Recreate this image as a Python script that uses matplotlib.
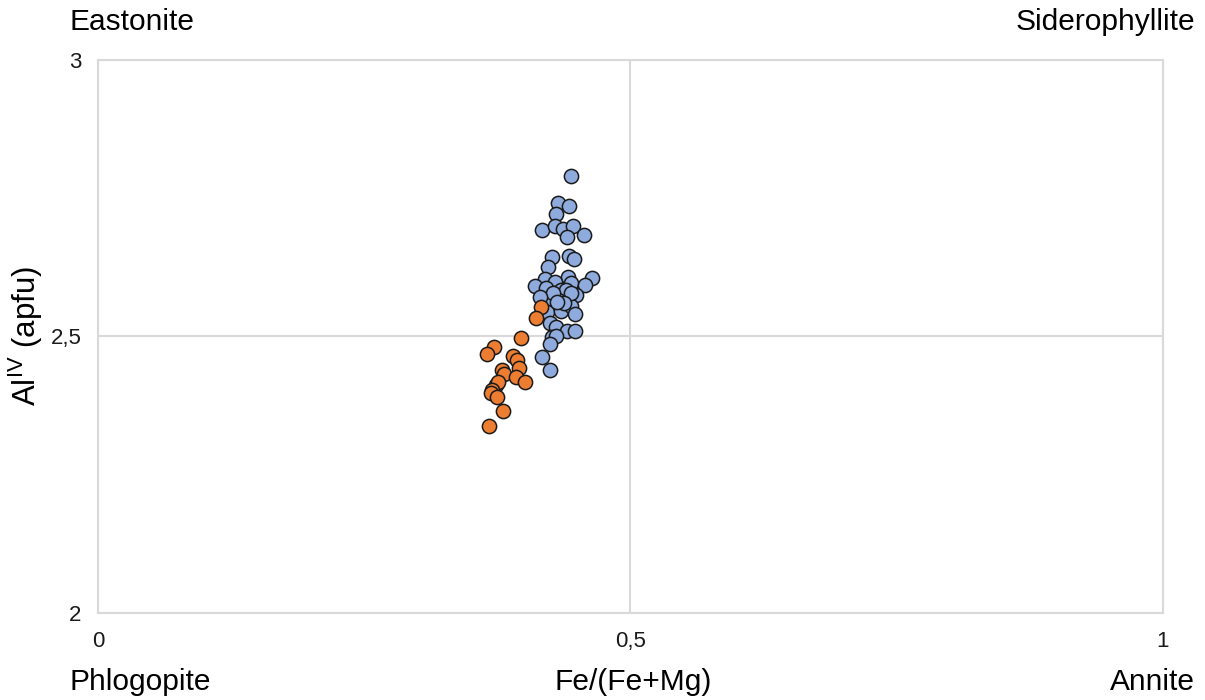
import matplotlib
matplotlib.use("Agg")
import matplotlib.pyplot as plt

plt.rcParams['font.family'] = ['Liberation Sans', 'DejaVu Sans']
plt.rcParams['mathtext.fontset'] = 'custom'
plt.rcParams['mathtext.rm'] = 'Liberation Sans'

# Fe/(Fe+Mg) and Al(IV) per formula unit, two biotite groups
fe_blue = [0.4445, 0.4323, 0.4427, 0.4305, 0.4173, 0.4295, 0.4370, 0.4464, 0.4408, 0.4568,
           0.4267, 0.4427, 0.4474, 0.4229, 0.4643, 0.4417, 0.4201, 0.4295, 0.4445, 0.4577,
           0.4107, 0.4211, 0.4295, 0.4352, 0.4398, 0.4492, 0.4239, 0.4323, 0.4398, 0.4220,
           0.4352, 0.4445, 0.4483, 0.4248, 0.4305, 0.4408, 0.4483, 0.4267, 0.4305, 0.4248,
           0.4173, 0.4248, 0.4276, 0.4445, 0.4380, 0.4314, 0.4154]
al_blue = [2.790, 2.741, 2.736, 2.722, 2.693, 2.700, 2.694, 2.700, 2.680, 2.684,
           2.644, 2.646, 2.640, 2.626, 2.606, 2.608, 2.604, 2.599, 2.597, 2.593,
           2.591, 2.588, 2.579, 2.584, 2.584, 2.575, 2.570, 2.566, 2.562, 2.544,
           2.546, 2.555, 2.541, 2.524, 2.517, 2.510, 2.510, 2.499, 2.501, 2.486,
           2.463, 2.439, 2.579, 2.579, 2.561, 2.562, 2.571]

fe_orange = [0.3976, 0.3722, 0.3656, 0.3900, 0.3938, 0.3957, 0.3797, 0.3816, 0.3929, 0.4013,
             0.3741, 0.3759, 0.3703, 0.3694, 0.3750, 0.3806, 0.3675, 0.4164, 0.4117]
al_orange = [2.497, 2.481, 2.468, 2.465, 2.458, 2.443, 2.439, 2.432, 2.427, 2.418,
             2.412, 2.418, 2.403, 2.398, 2.391, 2.365, 2.338, 2.553, 2.533]

x_ticks = [0, 0.5, 1]
x_labels = ['0', '0,5', '1']
y_ticks = [2, 2.5, 3]
y_labels = ['2', '2,5', '3']

grid_c = '#d9d9d9'

fig = plt.figure(figsize=(12.05, 7.0), dpi=100)
ax = fig.add_axes([0.0813, 0.1243, 0.8838, 0.79])

ax.scatter(fe_blue, al_blue, s=105, c='#8faadc', edgecolors='#1a1a1a', linewidths=1.1, zorder=3)
ax.scatter(fe_orange, al_orange, s=105, c='#ed7d31', edgecolors='#1a1a1a', linewidths=1.1, zorder=3)

ax.set_xlim(0, 1)
ax.set_ylim(2, 3)
ax.set_xticks(x_ticks, x_labels)
ax.set_yticks(y_ticks, y_labels)
ax.tick_params(length=0, labelsize=16, colors='#1a1a1a')
ax.tick_params(axis='x', pad=13)
ax.tick_params(axis='y', pad=12)
ax.grid(True, color=grid_c, linewidth=1.5, zorder=0)
for sp in ax.spines.values():
    sp.set_color(grid_c)
    sp.set_linewidth(1.5)

ax.set_ylabel(r'Al$^{\mathregular{IV}}$ (apfu)', fontsize=22.5)
ax.yaxis.set_label_coords(-53 / 1065, 0.5)

fs = 21.5
fig.text(70 / 1205, 1 - 22 / 700, 'Eastonite', fontsize=fs, va='center', ha='left')
fig.text(1195 / 1205, 1 - 22 / 700, 'Siderophyllite', fontsize=fs, va='center', ha='right')
fig.text(70 / 1205, 1 - 682 / 700, 'Phlogopite', fontsize=fs, va='center', ha='left')
fig.text(1195 / 1205, 1 - 682 / 700, 'Annite', fontsize=fs, va='center', ha='right')
fig.text(633 / 1205, 1 - 682 / 700, 'Fe/(Fe+Mg)', fontsize=fs, va='center', ha='center')

fig.savefig('out.png', dpi=100)
